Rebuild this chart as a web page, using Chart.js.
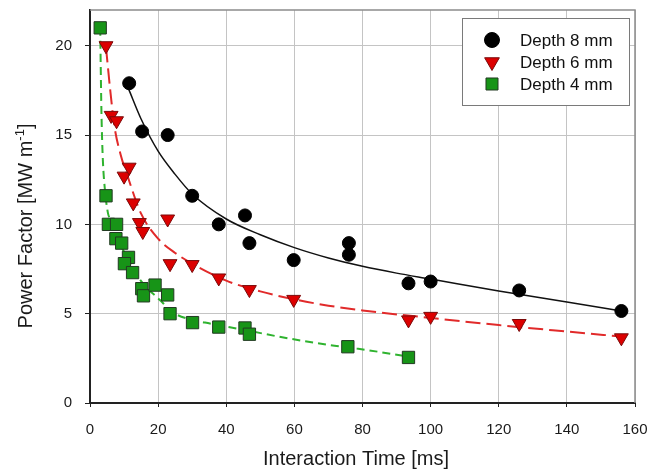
<!DOCTYPE html>
<html>
<head>
<meta charset="utf-8">
<script src="https://cdn.jsdelivr.net/npm/chart.js@4.4.1/dist/chart.umd.min.js"></script>
<style>
  html, body { margin: 0; padding: 0; background: #fff; }
  #wrap { width: 647px; height: 473px; position: relative; }
</style>
</head>
<body>
<div id="wrap"><canvas id="powerChart"></canvas></div>
<script>
const xTicks = [0, 20, 40, 60, 80, 100, 120, 140, 160];
const yTicks = [0, 5, 10, 15, 20];
const seriesLabels = ['Depth 8 mm', 'Depth 6 mm', 'Depth 4 mm'];

// measured points
const depth8Time = [11.5, 15.3, 22.8, 30, 37.8, 45.5, 46.8, 59.8, 76, 76, 93.5, 100, 126, 156];
const depth8Power = [17.9, 15.2, 15.0, 11.6, 10.0, 10.5, 8.95, 8.0, 8.3, 8.95, 6.7, 6.8, 6.3, 5.15];

const depth6Time = [4.7, 6.2, 7.8, 10, 11.5, 12.7, 14.5, 15.5, 22.8, 23.5, 30, 37.8, 46.8, 59.8, 93.5, 100, 126, 156];
const depth6Power = [20.0, 16.1, 15.8, 12.7, 13.2, 11.2, 10.1, 9.6, 10.3, 7.8, 7.75, 7.0, 6.35, 5.8, 4.65, 4.85, 4.45, 3.65];

const depth4Time = [3, 4.7, 5.4, 7.8, 7.6, 9.3, 11.3, 10.1, 12.5, 15.2, 15.7, 19.1, 22.8, 23.5, 30.1, 37.8, 45.5, 46.8, 75.7, 93.5];
const depth4Power = [21.0, 11.6, 10.0, 10.0, 9.2, 8.95, 8.15, 7.8, 7.3, 6.4, 6.0, 6.6, 6.05, 5.0, 4.5, 4.25, 4.2, 3.85, 3.15, 2.55];

// trend lines
const fit8Time = [11.3, 15, 20, 25, 30, 40, 50, 60, 70, 80, 90, 100, 120, 140, 156];
const fit8Power = [17.6, 15.9, 14.1, 12.8, 11.7, 10.3, 9.42, 8.7, 8.12, 7.65, 7.27, 6.94, 6.27, 5.65, 5.15];

const fit6Time = [4.7, 6, 7.25, 9, 11.2, 15, 20, 25, 30, 40, 50, 60, 70, 80, 100, 120, 140, 156];
const fit6Power = [19.9, 17.4, 15.4, 13.9, 12.6, 10.6, 9.2, 8.4, 7.8, 6.85, 6.25, 5.8, 5.45, 5.18, 4.76, 4.36, 4.0, 3.72];

const fit4Time = [3, 3.25, 3.45, 3.8, 4.3, 5.3, 6, 8, 10.8, 14.7, 20.6, 24.5, 30.3, 35.2, 45, 58.7, 70.5, 78.3, 93.5];
const fit4Power = [21, 17.5, 15.5, 13.5, 12.1, 10.6, 10.3, 9.2, 8.2, 6.9, 5.75, 5.05, 4.64, 4.45, 4.1, 3.6, 3.24, 3.05, 2.6];

const toXY = (xs, ys) => xs.map((x, i) => ({ x: x, y: ys[i] }));

Chart.defaults.font.family = '"Liberation Sans", Arial, sans-serif';

const markerSets = [
  { label: seriesLabels[0], data: toXY(depth8Time, depth8Power), pointStyle: 'circle', pointRadius: 6.5,
    backgroundColor: '#000', borderColor: '#000', borderWidth: 1, rotation: 0, order: 0 },
  { label: seriesLabels[1], data: toXY(depth6Time, depth6Power), pointStyle: 'triangle', pointRadius: 8, rotation: 180,
    backgroundColor: '#dc0000', borderColor: '#7a0a0a', borderWidth: 1, order: 1 },
  { label: seriesLabels[2], data: toXY(depth4Time, depth4Power), pointStyle: 'rect', pointRadius: 8.7, rotation: 0,
    backgroundColor: '#179417', borderColor: '#223a22', borderWidth: 1, order: 2 }
];

const fitSets = [
  { data: toXY(fit8Time, fit8Power), borderColor: '#111', borderWidth: 1.5, borderDash: [] },
  { data: toXY(fit6Time, fit6Power), borderColor: '#e12a2a', borderWidth: 2, borderDash: [15, 6] },
  { data: toXY(fit4Time, fit4Power), borderColor: '#2fb32f', borderWidth: 2, borderDash: [8, 5] }
].map(d => Object.assign(d, {
  showLine: true, pointRadius: 0, tension: 0.4, cubicInterpolationMode: 'monotone', fill: false, order: 10
}));

const chartExtras = {
  id: 'chartExtras',
  beforeDatasetsDraw(chart) {
    const { ctx, chartArea: a } = chart;
    ctx.save();
    ctx.strokeStyle = '#8c8c8c';
    ctx.lineWidth = 1.5;
    ctx.beginPath();
    ctx.moveTo(a.left, a.top);
    ctx.lineTo(a.right, a.top);
    ctx.lineTo(a.right, a.bottom);
    ctx.stroke();
    ctx.restore();
  },
  afterDraw(chart) {
    const ctx = chart.ctx;
    ctx.save();
    ctx.fillStyle = '#1a1a1a';

    // x title
    ctx.font = '20px "Liberation Sans", Arial, sans-serif';
    ctx.textAlign = 'center';
    ctx.textBaseline = 'alphabetic';
    ctx.fillText('Interaction Time [ms]', 356, 465);

    // y title with superscript
    const main = 'Power Factor [MW m', sup = '-1', end = ']';
    const supFont = '13px "Liberation Sans", Arial, sans-serif';
    ctx.font = '20px "Liberation Sans", Arial, sans-serif';
    const wMain = ctx.measureText(main).width, wEnd = ctx.measureText(end).width;
    ctx.font = supFont;
    const wSup = ctx.measureText(sup).width;
    const total = wMain + wSup + wEnd;
    ctx.translate(31.5, 226);
    ctx.rotate(-Math.PI / 2);
    ctx.textAlign = 'left';
    let x0 = -total / 2;
    ctx.font = '20px "Liberation Sans", Arial, sans-serif';
    ctx.fillText(main, x0, 0);
    ctx.font = supFont;
    ctx.fillText(sup, x0 + wMain, -8);
    ctx.font = '20px "Liberation Sans", Arial, sans-serif';
    ctx.fillText(end, x0 + wMain + wSup, 0);
    ctx.restore();

    // legend box
    ctx.save();
    ctx.fillStyle = '#fff';
    ctx.strokeStyle = '#7a7a7a';
    ctx.lineWidth = 1;
    ctx.fillRect(462, 18, 167, 87);
    ctx.strokeRect(462.5, 18.5, 167, 87);
    const rows = [40, 62, 84];
    const legendRadius = [7.5, 8.5, 8.5];
    markerSets.forEach((ds, i) => {
      ctx.fillStyle = ds.backgroundColor;
      ctx.strokeStyle = ds.borderColor;
      ctx.lineWidth = ds.borderWidth;
      Chart.helpers.drawPoint(ctx, {
        pointStyle: ds.pointStyle, rotation: ds.rotation, radius: legendRadius[i], borderWidth: ds.borderWidth
      }, 492, rows[i]);
      ctx.fillStyle = '#111';
      ctx.font = '17px "Liberation Sans", Arial, sans-serif';
      ctx.textAlign = 'left';
      ctx.textBaseline = 'middle';
      ctx.fillText(ds.label, 520, rows[i] + 1);
    });
    ctx.restore();
  }
};

new Chart(document.getElementById('powerChart'), {
  type: 'scatter',
  data: { datasets: fitSets.concat(markerSets) },
  options: {
    responsive: true,
    maintainAspectRatio: false,
    animation: false,
    layout: { padding: { top: 10, right: 12, left: 0, bottom: 0 } },
    plugins: { legend: { display: false }, tooltip: { enabled: false } },
    scales: {
      x: {
        type: 'linear', min: 0, max: 160,
        afterFit(s) { s.height = 70; s.paddingLeft = 0; s.paddingRight = 0; },
        afterBuildTicks(s) { s.ticks = xTicks.map(v => ({ value: v })); },
        ticks: { color: '#1a1a1a', font: { size: 15 }, padding: 14, maxRotation: 0 },
        grid: { color: '#c4c4c4', lineWidth: 1, tickLength: 4, tickColor: '#222' },
        border: { color: '#222', width: 2 }
      },
      y: {
        type: 'linear', min: 0, max: 22,
        afterFit(s) { s.width = 90; s.paddingTop = 0; s.paddingBottom = 0; },
        afterBuildTicks(s) { s.ticks = yTicks.map(v => ({ value: v })); },
        ticks: { color: '#1a1a1a', font: { size: 15 }, padding: 13 },
        grid: { color: '#c4c4c4', lineWidth: 1, tickLength: 5, tickColor: '#222' },
        border: { color: '#222', width: 2 }
      }
    }
  },
  plugins: [chartExtras]
});
</script>
</body>
</html>
